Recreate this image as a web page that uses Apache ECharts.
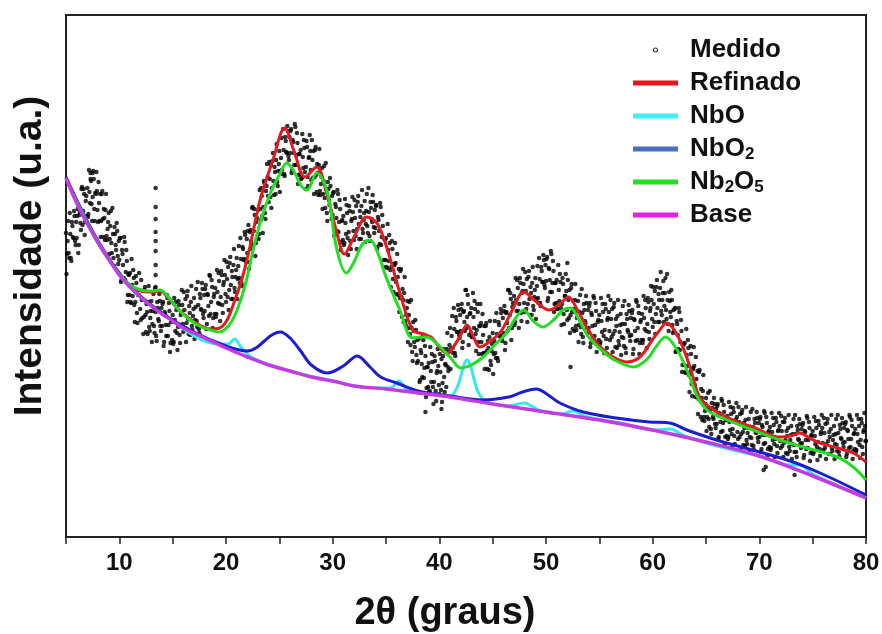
<!DOCTYPE html>
<html><head><meta charset="utf-8">
<script src="https://cdn.jsdelivr.net/npm/echarts/dist/echarts.min.js"></script>
<style>html,body{margin:0;padding:0;background:#fff}#c{width:882px;height:634px}</style>
</head><body><div id="c"></div>
<script>
// x axis ticks (labels every 10, ticks every 5)
const xMin = 5, xMax = 80, xStep = 5;
// Medido, batch A: each row = [degree, 10 readings at degree + k/10]
const medidoRowsA = [
[5,[304,283,316,279,303,276,311,299,321,292]],
[6,[299,328,292,325,307,350,326,343,315,341]],
[7,[349,323,345,364,333,340,358,316,343,346]],
[8,[315,334,343,316,346,300,319,327,301,308]],
[9,[324,298,326,284,303,271,303,287,306,273]],
[10,[277,299,257,283,259,295,265,276,242,262]],
[11,[264,234,252,267,232,235,254,214,242,247]],
[12,[217,237,246,220,250,205,225,235,210,219]],
[13,[236,213,243,204,225,196,229,216,236,206]],
[14,[211,235,195,223,201,239,212,226,194,217]],
[15,[222,195,217,235,204,210,232,194,225,232]],
[16,[205,227,238,214,246,203,224,235,211,221]],
[17,[239,217,248,210,232,204,239,227,248,219]],
[18,[226,252,213,242,221,261,235,250,219,243]],
[19,[249,223,245,264,233,240,262,224,255,262]],
[20,[235,258,270,247,280,238,260,272,249,260]],
[21,[279,258,291,254,278,251,288,278,302,275]],
[22,[284,312,275,307,288,330,306,322,294,319]],
[23,[327,303,328,349,321,330,354,318,351,360]],
[24,[335,358,372,349,384,342,365,377,355,366]],
[25,[386,366,399,363,387,361,396,384,406,377]],
[26,[384,408,367,395,372,410,382,394,362,383]],
[27,[387,359,380,397,365,370,390,351,380,386]],
[28,[357,377,386,360,390,345,364,372,346,353]],
[29,[369,343,371,329,348,316,348,332,351,318]],
[30,[322,345,303,330,306,343,315,328,295,317]],
[31,[321,294,314,332,299,305,326,288,318,325]],
[32,[297,319,331,308,341,298,320,331,308,317]],
[33,[336,313,343,304,325,296,329,315,335,304]],
[34,[309,332,290,317,293,330,300,311,277,297]],
[35,[299,269,287,302,267,270,288,245,272,274]],
[36,[243,260,268,239,268,220,237,244,216,222]],
[37,[236,209,235,192,209,176,206,190,207,174]],
[38,[176,199,157,184,160,197,169,181,149,170]],
[39,[174,146,166,183,150,155,176,136,166,171]],
[40,[143,165,178,154,188,145,172,188,170,185]],
[41,[209,188,221,184,208,181,216,205,227,199]],
[42,[206,233,195,226,206,247,220,233,202,224]],
[43,[229,200,220,236,203,207,225,183,211,214]],
[44,[183,202,211,184,214,168,189,200,176,186]],
[45,[204,183,216,179,203,176,212,201,224,196]],
[46,[204,231,194,225,206,247,222,238,209,234]],
[47,[241,215,237,257,226,233,254,216,246,253]],
[48,[225,246,258,233,266,222,244,254,231,240]],
[49,[259,238,271,234,258,231,266,255,277,249]],
[50,[256,280,239,268,245,283,254,266,233,254]],
[51,[257,228,247,263,229,233,253,213,241,246]],
[52,[217,237,247,222,253,208,228,237,211,219]],
[53,[236,212,242,203,224,194,227,214,234,204]],
[54,[209,234,194,222,200,239,212,226,194,217]],
[55,[222,195,216,233,201,207,228,189,219,225]],
[56,[197,218,228,203,234,190,211,221,196,205]],
[57,[223,200,231,191,213,184,218,205,226,196]],
[58,[202,227,188,217,196,235,209,224,194,217]],
[59,[223,197,219,237,206,213,235,198,229,237]],
[60,[210,233,246,223,257,215,237,249,226,237]],
[61,[256,231,259,218,237,206,236,220,237,204]],
[62,[206,229,186,213,188,225,195,206,172,192]],
[63,[194,164,182,197,162,165,183,141,168,171]],
[64,[140,158,166,138,167,120,139,146,120,126]],
[65,[139,120,144,110,127,103,129,118,133,109]],
[66,[113,133,100,123,105,136,114,125,100,117]],
[67,[121,100,115,130,103,108,125,93,117,120]],
[68,[98,115,123,103,127,92,109,117,97,104]],
[69,[118,100,125,92,110,87,114,104,119,95]],
[70,[100,120,88,110,93,124,102,114,88,106]],
[71,[110,89,105,119,93,98,115,84,107,111]],
[72,[89,106,115,94,119,84,101,109,90,97]],
[73,[111,93,118,85,103,80,107,97,113,89]],
[74,[94,114,82,105,88,119,97,109,84,102]],
[75,[106,85,101,116,90,95,112,81,105,109]],
[76,[87,104,113,93,118,83,100,108,89,97]],
[77,[111,93,118,86,104,81,108,98,114,90]],
[78,[95,115,83,106,89,120,98,111,86,104]],
[79,[108,87,103,118,92,97,114,83,107,111]],
[80,[96]]
];
// Medido, batch B: readings at degree + 0.05 + k/10
const medidoRowsB = [
[5,[263,296,284,324,279,315,300,326,296,315]],
[6,[321,284,322,314,348,312,348,302,336,321]],
[7,[320,367,334,356,316,366,328,344,365,327]],
[8,[355,316,300,343,318,328,297,343,297,315]],
[9,[283,311,294,329,279,310,292,314,281,296]],
[10,[299,255,287,272,300,257,287,235,263,242]],
[11,[235,278,241,259,215,261,224,242,264,228]],
[12,[257,219,203,247,222,233,203,251,206,226]],
[13,[195,226,211,249,201,235,218,243,211,229]],
[14,[233,191,225,212,242,201,234,185,215,197]],
[15,[193,239,206,227,187,236,202,222,247,213]],
[16,[245,209,195,241,218,231,202,251,207,228]],
[17,[198,230,216,255,208,243,228,254,223,242]],
[18,[248,208,243,231,262,223,257,209,240,223]],
[19,[220,267,234,256,216,266,232,252,277,243]],
[20,[275,240,227,274,252,266,238,288,245,267]],
[21,[238,271,259,299,254,290,277,305,277,298]],
[22,[306,268,305,296,329,292,328,281,315,299]],
[23,[298,347,317,341,304,356,324,346,373,341]],
[24,[375,340,329,376,356,370,343,393,351,373]],
[25,[345,379,367,408,363,400,385,411,381,400]],
[26,[406,364,397,384,413,372,404,353,383,363]],
[27,[358,403,369,389,348,396,360,379,402,367]],
[28,[397,359,343,387,362,373,342,388,342,360]],
[29,[328,356,339,374,324,355,337,359,326,341]],
[30,[344,301,333,319,347,305,337,287,316,297]],
[31,[292,338,303,324,282,331,296,316,340,306]],
[32,[337,301,288,335,313,326,298,347,304,324]],
[33,[295,326,311,349,301,335,318,342,310,327]],
[34,[331,288,320,306,334,292,322,270,298,277]],
[35,[270,313,276,294,250,296,258,273,294,255]],
[36,[283,242,225,266,240,248,215,260,212,229]],
[37,[195,222,203,237,185,215,195,217,182,197]],
[38,[198,155,187,173,201,159,191,140,170,150]],
[39,[145,190,155,175,133,181,146,164,188,152]],
[40,[183,147,135,181,160,173,150,204,166,192]],
[41,[168,201,189,229,184,220,205,232,202,222]],
[42,[228,189,225,215,247,209,242,192,223,204]],
[43,[200,244,209,228,186,233,195,211,233,195]],
[44,[223,184,168,211,186,196,167,216,172,193]],
[45,[163,196,184,224,179,215,201,228,199,219]],
[46,[226,187,224,214,247,209,244,197,230,214]],
[47,[212,259,226,249,209,259,224,244,268,234]],
[48,[265,228,215,260,238,250,222,270,227,247]],
[49,[218,251,239,279,234,270,255,282,252,272]],
[50,[278,236,269,257,286,245,276,225,254,234]],
[51,[228,272,236,255,212,259,223,241,263,227]],
[52,[257,219,204,249,225,236,206,253,207,226]],
[53,[195,225,210,248,200,233,216,241,209,227]],
[54,[231,190,224,211,241,201,234,185,215,197]],
[55,[193,239,205,225,184,233,198,217,241,206]],
[56,[237,200,185,230,206,218,189,237,192,212]],
[57,[182,213,199,236,189,223,207,232,201,219]],
[58,[224,183,218,206,237,197,231,183,215,197]],
[59,[194,241,208,229,189,239,205,226,251,218]],
[60,[250,215,203,250,229,243,215,265,222,244]],
[61,[215,244,227,263,213,245,225,247,212,227]],
[62,[228,185,216,202,229,187,217,165,193,172]],
[63,[165,208,171,189,145,191,153,169,190,152]],
[64,[180,140,123,165,139,148,117,162,116,133]],
[65,[106,130,118,146,108,134,120,139,113,128]],
[66,[131,98,124,115,138,106,132,92,117,101]],
[67,[98,135,107,123,90,129,101,115,134,105]],
[68,[130,100,88,124,105,114,91,130,93,109]],
[69,[85,110,99,128,91,118,105,125,99,114]],
[70,[118,85,112,102,126,94,120,81,105,90]],
[71,[87,124,97,112,80,119,91,106,124,96]],
[72,[121,91,80,115,97,106,83,122,86,102]],
[73,[78,103,92,122,85,111,98,118,93,108]],
[74,[112,79,106,97,121,89,115,76,101,86]],
[75,[83,120,93,109,77,116,88,103,122,94]],
[76,[119,89,78,114,96,105,83,122,86,102]],
[77,[78,103,92,122,85,112,99,119,94,109]],
[78,[113,80,107,98,122,90,117,78,103,88]],
[79,[85,122,95,111,79,118,90,105,124,96]]
];
const medidoSpike = [[13.4,349],[13.4,330],[13.4,318],[13.4,305],[13.4,296],[13.4,286],[13.4,272],[13.4,262],[13.4,250]];
const medidoOutliers = [[38.7,125],[40.2,128],[70.4,67],[70.6,70],[73.3,62],[52.3,170],[52.0,274],[7.5,364],[7.3,358]];

const refinado = [[5,359],[8,294],[10,263],[11,251],[12,246],[13,245],[13.8,246],[14.6,239],[15.5,228],[16.5,219],[17.5,212],[18.5,208],[19.4,209],[20.1,217],[20.8,236],[21.5,258],[22.2,288],[23.2,337],[24.4,377],[25.5,409],[26.4,385],[27.4,360],[28.5,370],[29.4,345],[30.4,304],[31.1,283],[32,300],[33.2,320],[34.2,313],[35.2,285],[36.3,244],[37.5,207],[38.5,203],[39.2,200],[40.7,184],[41.8,198],[42.6,212],[43.2,200],[43.8,190],[44.8,196],[45.8,206],[46.9,228],[47.9,245],[49,236],[50.3,227],[51.3,233],[52.1,240],[52.9,228],[53.8,210],[55.1,190],[56.3,180],[57.6,175],[58.8,180],[59.9,196],[60.6,206],[61.3,214],[62.4,200],[63.5,170],[64.4,140],[65.7,127],[67.5,117],[69.4,110],[71.9,100],[72.9,101],[73.8,104],[74.7,99],[75.7,94],[77.3,89],[78.8,84],[80,75]];
const nbo = [[5,359],[10,262],[15,216],[19.3,193],[20.2,193],[20.8,198],[21.4,190],[22.5,179],[26,166],[30,156],[34,149],[35.4,149],[36.2,156],[37,147],[38.5,144],[41,141],[41.6,148],[42,160],[42.3,172],[42.6,177],[42.9,172],[43.2,160],[43.6,146],[44.3,136],[46.5,131],[47.9,134],[49.5,126],[51.5,123],[52.5,126],[53.8,120],[57,114],[60,107],[61.6,108],[63,101],[66,91],[70,81],[72.8,72],[73.8,72],[75,63],[80,39]];
const nbo2 = [[5,360],[8,296],[11,251],[14,224],[17,205],[20,191],[22,186],[22.8,189],[23.6,196],[24.3,202],[25.1,205],[26,199],[27,186],[28,172],[29.5,164],[31,171],[32.3,181],[33.5,170],[34.5,160],[36,154],[38,146],[41,141],[44,137],[46.5,140],[47.8,145],[49.1,148],[50.2,142],[51.3,134],[53.5,125],[56.6,119],[59.7,115],[61.6,114],[63.2,107],[66.3,96],[72.6,77],[75.7,64],[80,42]];
const nb2o5 = [[5,358],[8,294],[10,263],[11,252],[12,247],[13,246],[13.8,247],[14.6,240],[15.5,228],[16.5,218],[17.5,211],[18.5,207],[19.4,205],[20.3,212],[21,226],[21.8,252],[22.5,285],[23.3,318],[24.2,345],[25,362],[25.7,374],[26.4,365],[27,352],[27.6,347],[28.5,364],[29.5,345],[30.4,287],[31.3,264],[32,275],[32.8,293],[33.5,297],[34.2,285],[35,260],[36.3,227],[37.5,199],[38.5,200],[39.1,199],[40,191],[41,180],[42,169],[43,172],[44.1,180],[45.2,192],[46.3,204],[47.1,218],[47.9,227],[48.8,216],[49.7,210],[50.8,218],[51.6,227],[52.3,229],[53.1,217],[54,200],[55.4,185],[56.6,176],[58.2,170],[59.5,178],[60.3,190],[61.2,200],[62.3,187],[63.2,167],[64.2,140],[65.1,127],[66.3,120],[69.4,107],[71.9,97],[74.1,90],[77.3,80],[78.8,70],[80,57]];
const base = [[5,359],[6,334],[7,313],[8,295],[9,278],[10,262],[11,250],[12,240],[13,231],[14,223],[15,216],[16,209],[17,204],[18,199],[19,194],[20,189],[22,180],[24,172],[26,166],[28,160],[30,156],[32,151],[35,148],[38,144],[41,140],[45,133],[50,125],[55,117],[60,107],[65,95],[70,81],[75,61],[80,39]];

const FONT = "'Liberation Sans', Arial, sans-serif";
const medidoData = [];
medidoRowsA.forEach(([d, ys]) => ys.forEach((y, k) => medidoData.push([d + k / 10, y])));
medidoRowsB.forEach(([d, ys]) => ys.forEach((y, k) => medidoData.push([d + 0.05 + k / 10, y])));
medidoSpike.forEach(p => medidoData.push(p));
medidoOutliers.forEach(p => medidoData.push(p));

const lineSeries = (name, data, color, width, z) => ({
  name, type: 'line', data, showSymbol: false, smooth: 0.35, z,
  itemStyle: { color }, lineStyle: { color, width }, emphasis: { disabled: true }
});

const legendText = {
  fontFamily: FONT, fontWeight: 'bold', fontSize: 26, color: '#111', lineHeight: 28, padding: [0, 0, 0, 7],
  rich: { s: { fontFamily: FONT, fontWeight: 'bold', fontSize: 17, color: '#111', lineHeight: 10, verticalAlign: 'bottom' } }
};
// hollow ring icon, bounding box 75.6 x 8.4 so it scales uniformly into 45 x 5
const ringIcon = 'path://M0,0M75.6,8.4M33.6,4.2a4.2,4.2 0 1,0 8.4,0a4.2,4.2 0 1,0 -8.4,0zM35.4,4.2a2.4,2.4 0 1,1 4.8,0a2.4,2.4 0 1,1 -4.8,0z';

const chart = echarts.init(document.getElementById('c'), null, { renderer: 'canvas' });
chart.setOption({
  animation: false,
  backgroundColor: '#fff',
  grid: { left: 66, right: 16, top: 15, bottom: 97, show: true, borderColor: '#222', borderWidth: 2, containLabel: false, outerBoundsMode: 'none' },
  xAxis: {
    type: 'value', min: xMin, max: xMax, interval: xStep,
    axisLine: { show: true, lineStyle: { color: '#222', width: 2 } },
    axisTick: { show: true, inside: false, length: 7, lineStyle: { color: '#222', width: 1.5 } },
    splitLine: { show: false },
    axisLabel: { margin: 14, color: '#111', fontFamily: FONT, fontWeight: 'bold', fontSize: 24,
      formatter: v => (v % 10 === 0 ? String(v) : '') },
    name: '2θ (graus)', nameLocation: 'middle', nameGap: 58,
    nameTextStyle: { fontFamily: FONT, fontWeight: 'bold', fontSize: 38, color: '#111', padding: [0, 42, 0, 0] }
  },
  yAxis: {
    type: 'value', min: 0, max: 522,
    axisLine: { show: true, lineStyle: { color: '#222', width: 2 } },
    axisTick: { show: false }, axisLabel: { show: false }, splitLine: { show: false },
    name: 'Intensidade (u.a.)', nameLocation: 'middle', nameGap: 16, nameRotate: 90,
    nameTextStyle: { fontFamily: FONT, fontWeight: 'bold', fontSize: 39, color: '#111', padding: [0, 0, 0, 40] }
  },
  legend: {
    data: [
      { name: 'Medido', icon: ringIcon, itemStyle: { color: '#000' } },
      { name: 'Refinado', icon: 'rect', itemStyle: { color: '#e8161c' } },
      { name: 'NbO', icon: 'rect', itemStyle: { color: '#3ff0f5' } },
      { name: 'NbO2', icon: 'rect', itemStyle: { color: '#4a6fc0' } },
      { name: 'Nb2O5', icon: 'rect', itemStyle: { color: '#22e022' } },
      { name: 'Base', icon: 'rect', itemStyle: { color: '#e61fe6' } }
    ],
    orient: 'vertical', left: 633, top: 36, padding: 0, itemWidth: 45, itemHeight: 5, itemGap: 5,
    selectedMode: false, textStyle: legendText,
    formatter: n => n === 'NbO2' ? 'NbO{s|2}' : (n === 'Nb2O5' ? 'Nb{s|2}O{s|5}' : n)
  },
  series: [
    { name: 'Medido', type: 'scatter', data: medidoData, symbol: 'circle', symbolSize: 4.5, z: 1,
      itemStyle: { color: '#000' }, emphasis: { disabled: true } },
    lineSeries('Refinado', refinado, '#e31a1f', 3, 3),
    lineSeries('NbO', nbo, '#36e8f0', 3, 4),
    lineSeries('NbO2', nbo2, '#1c1cd0', 3, 5),
    lineSeries('Nb2O5', nb2o5, '#22dd22', 3, 6),
    lineSeries('Base', base, '#c23ce2', 3.5, 7)
  ]
});
</script>
</body></html>
